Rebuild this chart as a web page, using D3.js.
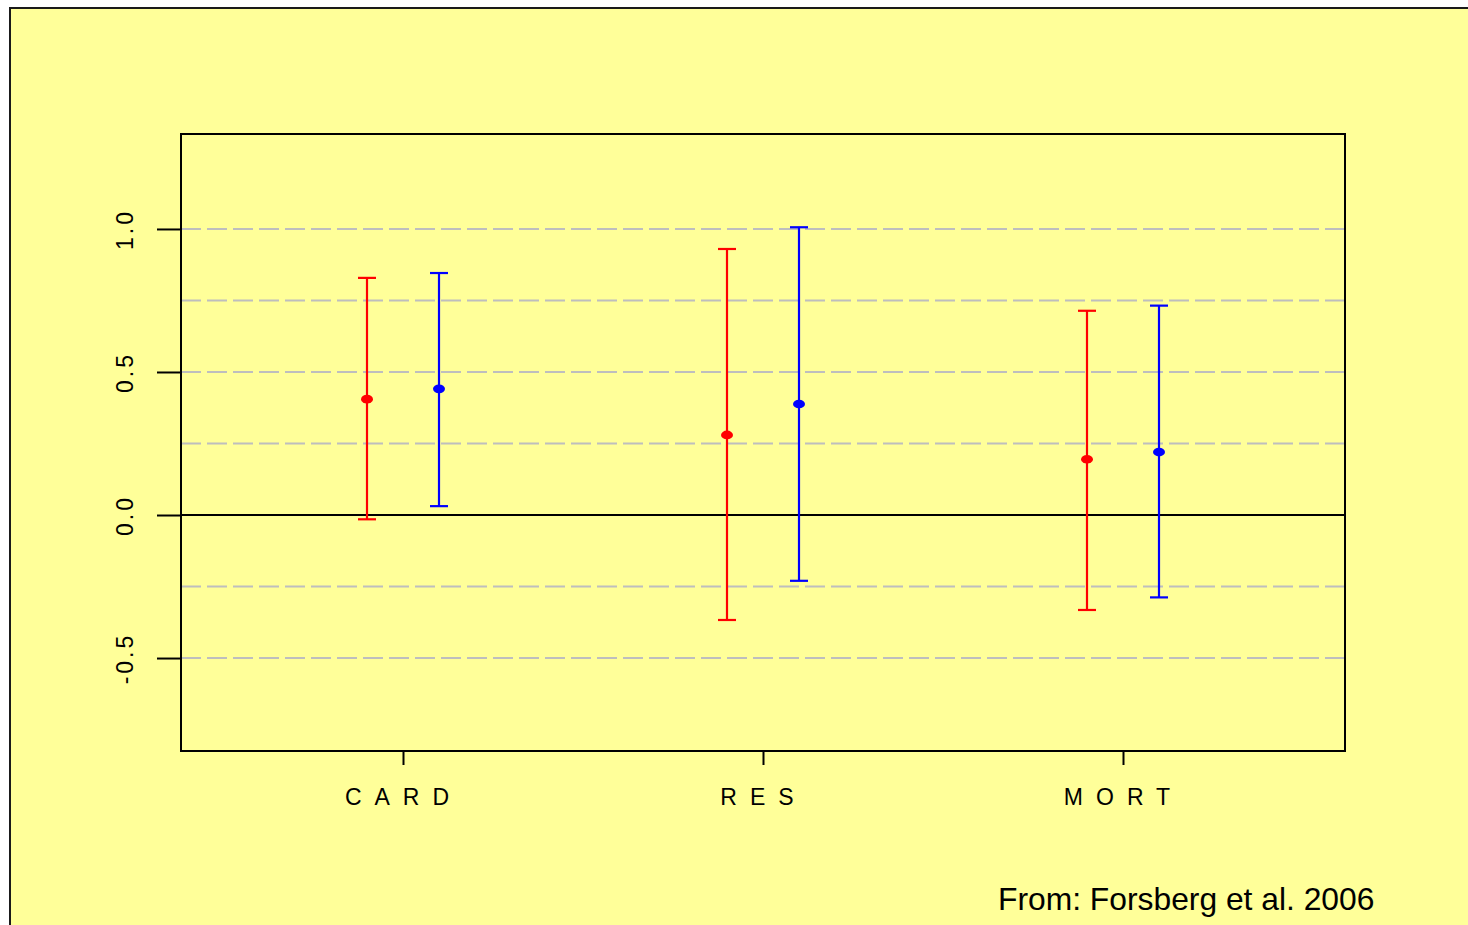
<!DOCTYPE html>
<html>
<head>
<meta charset="utf-8">
<script src="https://cdn.jsdelivr.net/npm/d3@7"></script>
<style>
  html, body { margin: 0; padding: 0; background: #ffffff; }
  svg { display: block; }
  text { font-family: "Liberation Sans", Arial, sans-serif; }
</style>
</head>
<body>
<svg id="chart" width="1468" height="925"></svg>
<script>
// ---- data ----
const categories = ["CARD", "RES", "MORT"];
const redMean  = [0.405, 0.280, 0.195];
const redLower = [-0.015, -0.367, -0.332];
const redUpper = [0.829, 0.930, 0.714];
const blueMean  = [0.441, 0.388, 0.220];
const blueLower = [0.031, -0.230, -0.288];
const blueUpper = [0.846, 1.006, 0.732];
const yTicks = [-0.5, 0.0, 0.5, 1.0];
const yTickLabels = ["-0.5", "0.0", "0.5", "1.0"];
const gridValues = [-0.5, -0.25, 0.25, 0.5, 0.75, 1.0];
const footnote = "From: Forsberg et al. 2006";

const series = [
  { color: "#ff0000", offset: -0.1, mean: redMean, lower: redLower, upper: redUpper },
  { color: "#0000ff", offset: 0.1, mean: blueMean, lower: blueLower, upper: blueUpper }
];

// ---- layout ----
const svg = d3.select("#chart");
const plot = { left: 181, right: 1345, top: 134, bottom: 751 };

// outer yellow panel with border (left/top visible)
svg.append("rect")
  .attr("x", 10).attr("y", 8)
  .attr("width", 1500).attr("height", 1000)
  .attr("fill", "#ffff99")
  .attr("stroke", "#1a1a1a")
  .attr("stroke-width", 2);

const x = d3.scaleLinear()
  .domain([1 - 222 / 360, 3 + 222 / 360])
  .range([plot.left, plot.right]);
const y = d3.scaleLinear()
  .domain([-0.825, 1.332])
  .range([plot.bottom, plot.top]);

// grid lines
svg.append("g").selectAll("line")
  .data(gridValues)
  .join("line")
  .attr("x1", plot.left).attr("x2", plot.right)
  .attr("y1", d => y(d)).attr("y2", d => y(d))
  .attr("stroke", "#bebebe")
  .attr("stroke-width", 2)
  .attr("stroke-dasharray", "20,6");

// zero line
svg.append("line")
  .attr("x1", plot.left).attr("x2", plot.right)
  .attr("y1", y(0)).attr("y2", y(0))
  .attr("stroke", "#000").attr("stroke-width", 2);

// error bars
series.forEach(s => {
  const g = svg.append("g");
  categories.forEach((c, i) => {
    const cx = x(i + 1 + s.offset);
    g.append("line")
      .attr("x1", cx).attr("x2", cx)
      .attr("y1", y(s.lower[i])).attr("y2", y(s.upper[i]))
      .attr("stroke", s.color).attr("stroke-width", 2.2);
    [s.lower[i], s.upper[i]].forEach(v => {
      g.append("line")
        .attr("x1", cx - 9).attr("x2", cx + 9)
        .attr("y1", y(v)).attr("y2", y(v))
        .attr("stroke", s.color).attr("stroke-width", 2.2);
    });
    g.append("ellipse")
      .attr("cx", cx).attr("cy", y(s.mean[i]))
      .attr("rx", 6).attr("ry", 4.3)
      .attr("fill", s.color);
  });
});

// plot frame
svg.append("rect")
  .attr("x", plot.left).attr("y", plot.top)
  .attr("width", plot.right - plot.left).attr("height", plot.bottom - plot.top)
  .attr("fill", "none").attr("stroke", "#000").attr("stroke-width", 2);

// y axis
const yAxis = d3.axisLeft(y)
  .tickValues(yTicks)
  .tickSize(24)
  .tickFormat((d, i) => yTickLabels[i]);
const yg = svg.append("g")
  .attr("transform", `translate(${plot.left},0)`)
  .call(yAxis);
yg.select(".domain").remove();
yg.selectAll(".tick line").attr("stroke", "#000").attr("stroke-width", 2);
yg.selectAll(".tick text")
  .attr("x", 0).attr("dy", 0)
  .attr("text-anchor", "middle")
  .attr("transform", "translate(-48,0) rotate(-90)")
  .attr("fill", "#000")
  .style("font-size", "23px")
  .style("letter-spacing", "3px");

// x axis
const xAxis = d3.axisBottom(x)
  .tickValues([1, 2, 3])
  .tickSize(14)
  .tickFormat((d, i) => categories[i]);
const xg = svg.append("g")
  .attr("transform", `translate(0,${plot.bottom})`)
  .call(xAxis);
xg.select(".domain").remove();
xg.selectAll(".tick line").attr("stroke", "#000").attr("stroke-width", 2);
xg.selectAll(".tick text")
  .attr("y", 54).attr("dy", 0)
  .attr("fill", "#000")
  .attr("text-anchor", "middle")
  .style("font-size", "23px")
  .style("letter-spacing", "13px");

// footnote
svg.append("text")
  .attr("x", 998).attr("y", 910)
  .attr("fill", "#000")
  .style("font-size", "31.8px")
  .text(footnote);
</script>
</body>
</html>
